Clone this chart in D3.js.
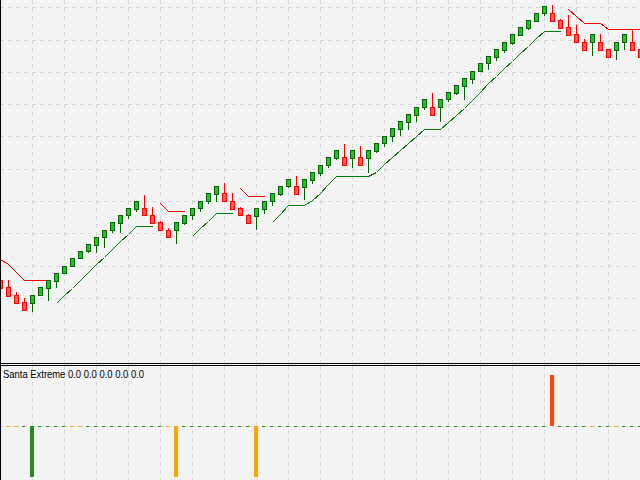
<!DOCTYPE html>
<html>
<head>
<meta charset="utf-8">
<script src="https://cdn.jsdelivr.net/npm/d3@7"></script>
<style>
  html, body { margin: 0; padding: 0; background: #f4f4f4; overflow: hidden; }
  svg { display: block; }
</style>
</head>
<body>
<svg id="chart" width="640" height="480"></svg>
<script>
// price bars, one per candle (arbitrary price units)
var opens = [120,113,105,98,97,105,112,119,127,134,
  142,149,155,163,170,177,185,191,192,185,
  178,170,170,177,185,192,199,206,207,199,
  192,185,184,191,199,206,214,214,213,220,
  227,235,242,243,242,243,242,249,257,264,
  271,278,285,293,293,293,301,307,314,321,
  329,337,343,350,357,365,372,379,387,387,
  380,373,366,358,358,358,351,350,358,358,
  351];
var highs = [120,120,108,102,105,113,120,127,134,142,
  149,156,163,170,178,185,192,199,205,193,
  179,172,178,185,192,199,207,214,217,207,
  193,186,192,199,207,214,221,224,221,228,
  235,243,250,256,250,254,250,257,264,272,
  279,286,293,301,307,301,308,315,322,329,
  337,344,351,358,366,373,380,387,394,395,
  381,385,375,361,366,366,351,358,366,371,
  351];
var lows = [112,104,97,90,89,105,100,113,127,134,
  142,148,148,153,168,168,182,189,185,177,
  170,163,157,176,181,189,197,199,199,191,
  185,177,171,187,195,205,213,206,201,217,
  225,233,241,235,233,235,228,248,254,259,
  265,271,279,291,285,279,299,306,301,317,
  329,331,340,348,356,365,371,379,385,379,
  372,365,358,350,345,350,343,341,351,350,
  343];
var closes = [112,104,97,90,105,113,120,127,134,142,
  149,156,163,170,178,185,192,199,185,177,
  170,163,178,185,192,199,207,214,199,191,
  185,177,192,199,207,214,221,206,221,228,
  235,243,250,235,250,235,250,257,264,272,
  279,286,293,301,285,301,308,315,322,329,
  337,344,351,358,366,373,380,387,394,379,
  372,365,358,350,366,350,343,358,366,350,
  343];

// trailing levels (null = not drawn)
var redLine = [141,136,128,120,120,120,120,null,null,null,
  null,null,null,null,null,null,null,null,null,null,
  197,189,189,189,null,null,null,null,null,null,
  212,204,204,204,null,null,null,null,null,null,
  null,null,null,null,null,null,null,null,null,null,
  null,null,null,null,null,null,null,null,null,null,
  null,null,null,null,null,null,null,null,null,null,
  null,391,384,377,377,377,371,371,371,371,
  371];
var greenLine = [null,null,null,null,null,null,null,97,105,112,
  120,128,136,143,151,159,166,174,174,174,
  null,null,null,null,164,172,179,187,187,187,
  null,null,null,null,178,186,195,195,195,200,
  207,216,224,224,224,224,224,228,236,243,
  250,257,264,271,271,271,278,285,292,300,
  308,317,324,332,339,347,354,362,369,369,
  369,null,null,null,null,null,null,null,null,null,
  null];

// price grid levels
var priceTicks = [70,102,134,167,199,231,264,296,328,360,393];

// Santa Extreme signals
var signalIndex = [4,22,32,69];
var signalValue = [-1,-1,-1,1];
var signalKind  = ["buy","weak","weak","sell"];
var weakIndex   = [1,2,9,10,21,74,77];   // small orange ticks on the zero line
var indicatorLabel = "Santa Extreme 0.0 0.0 0.0 0.0 0.0";

var W = 640, H = 480;
var mainBottom = 363, subTop = 366;
var kindColor = {buy: "#228b22", weak: "#ffa500", sell: "#ff4500"};

var svg = d3.select("#chart").attr("shape-rendering", "crispEdges");

svg.append("rect").attr("width", W).attr("height", H).attr("fill", "#f4f4f4");

var x = d3.scaleLinear().domain([0, 80]).range([0, 640]);
var y = d3.scaleLinear().domain([38, 400]).range([362, 0]);
var y2 = d3.scaleLinear().domain([-1, 1]).range([477, 375]);

var idx = d3.range(opens.length);

// clip areas for both panels
var defs = svg.append("defs");
defs.append("clipPath").attr("id", "clipMain")
  .append("rect").attr("x", 0).attr("y", 0).attr("width", W).attr("height", mainBottom);
defs.append("clipPath").attr("id", "clipSub")
  .append("rect").attr("x", 0).attr("y", subTop).attr("width", W).attr("height", H - subTop);

var main = svg.append("g").attr("clip-path", "url(#clipMain)");
var sub = svg.append("g").attr("clip-path", "url(#clipSub)");

// grid
var vticks = d3.range(4, 80, 4);
var gridStyle = function(sel){
  sel.attr("stroke", "#d6d6d6").attr("stroke-width", 1).attr("stroke-dasharray", "4,4");
};
main.selectAll(".vgrid").data(vticks).enter().append("line")
  .attr("x1", function(d){ return x(d) + 0.5; })
  .attr("x2", function(d){ return x(d) + 0.5; })
  .attr("y1", 0).attr("y2", mainBottom)
  .call(gridStyle);
main.selectAll(".hgrid").data(priceTicks).enter().append("line")
  .attr("x1", 0).attr("x2", W)
  .attr("y1", function(d){ return Math.round(y(d)) + 0.5; })
  .attr("y2", function(d){ return Math.round(y(d)) + 0.5; })
  .call(gridStyle);
sub.selectAll(".vgrid").data(vticks).enter().append("line")
  .attr("x1", function(d){ return x(d) + 0.5; })
  .attr("x2", function(d){ return x(d) + 0.5; })
  .attr("y1", subTop).attr("y2", H)
  .call(gridStyle);
sub.append("line")
  .attr("x1", 0).attr("x2", W)
  .attr("y1", y2(0) + 0.5).attr("y2", y2(0) + 0.5)
  .call(gridStyle);

// trailing lines
var lineGen = d3.line()
  .defined(function(d){ return d != null; })
  .x(function(d, i){ return x(i) + 0.5; })
  .y(function(d){ return y(d) + 0.5; });
main.append("path").datum(redLine)
  .attr("d", lineGen).attr("fill", "none")
  .attr("stroke", "#ff0000").attr("stroke-width", 1);
main.append("path").datum(greenLine)
  .attr("d", lineGen).attr("fill", "none")
  .attr("stroke", "#008000").attr("stroke-width", 1);

// candles
var candle = main.selectAll(".candle").data(idx).enter().append("g");
var isUp = function(i){ return closes[i] >= opens[i]; };
candle.append("line")
  .attr("x1", function(i){ return x(i) + 0.5; })
  .attr("x2", function(i){ return x(i) + 0.5; })
  .attr("y1", function(i){ return y(highs[i]); })
  .attr("y2", function(i){ return y(lows[i]) + 1; })
  .attr("stroke", function(i){ return isUp(i) ? "#006400" : "#ff0000"; });
candle.append("rect")
  .attr("x", function(i){ return x(i) - 1.5; })
  .attr("width", 4)
  .attr("y", function(i){ return y(Math.max(opens[i], closes[i])) + 0.5; })
  .attr("height", function(i){ return Math.max(1, Math.abs(y(opens[i]) - y(closes[i]))); })
  .attr("fill", function(i){ return isUp(i) ? "#22c322" : "#ff5c5c"; })
  .attr("stroke", function(i){ return isUp(i) ? "#006400" : "#ff0000"; })
  .attr("stroke-width", 1);

// indicator: tiny ticks on every bar, then the big signals
var tiny = idx.filter(function(i){ return signalIndex.indexOf(i) < 0; });
sub.selectAll(".tiny").data(tiny).enter().append("rect")
  .attr("x", function(i){ return x(i) - 2; })
  .attr("y", y2(0))
  .attr("width", 3).attr("height", 1)
  .attr("fill", function(i){ return weakIndex.indexOf(i) >= 0 ? kindColor.weak : kindColor.buy; });
sub.selectAll(".sig").data(signalIndex).enter().append("rect")
  .attr("x", function(d){ return x(d) - 2; })
  .attr("width", 4)
  .attr("y", function(d, k){ return Math.min(y2(0), y2(signalValue[k])); })
  .attr("height", function(d, k){ return Math.abs(y2(signalValue[k]) - y2(0)); })
  .attr("fill", function(d, k){ return kindColor[signalKind[k]]; });

sub.append("text")
  .attr("x", 3).attr("y", 378)
  .attr("font-family", "'Liberation Sans', Arial, sans-serif")
  .attr("font-size", 11)
  .attr("textLength", 141).attr("lengthAdjust", "spacingAndGlyphs")
  .attr("fill", "#000")
  .text(indicatorLabel);

// panel borders
svg.append("line").attr("x1", 0).attr("x2", W).attr("y1", 363.5).attr("y2", 363.5).attr("stroke", "#000");
svg.append("line").attr("x1", 0).attr("x2", W).attr("y1", 365.5).attr("y2", 365.5).attr("stroke", "#000");
svg.append("line").attr("x1", 0.5).attr("x2", 0.5).attr("y1", 0).attr("y2", H).attr("stroke", "#000");
</script>
</body>
</html>
